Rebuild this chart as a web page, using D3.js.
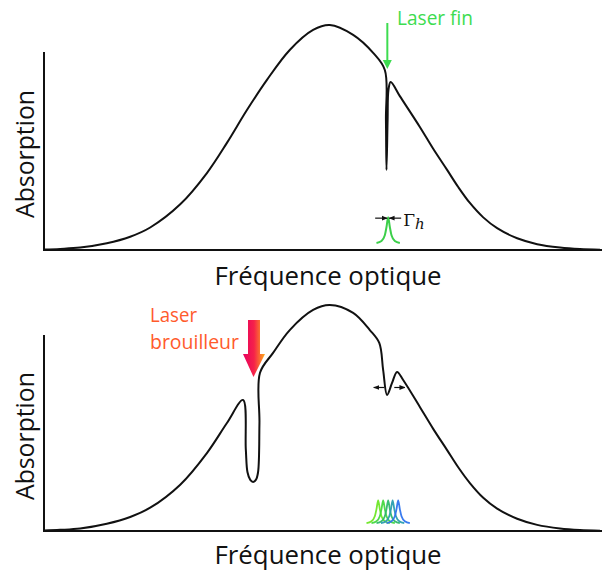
<!DOCTYPE html>
<html><head><meta charset="utf-8">
<script src="https://cdn.jsdelivr.net/npm/d3@7"></script>
<style>body{margin:0;background:#fff}svg{display:block}</style>
</head><body>
<svg id="c" width="602" height="571"></svg>
<script>
// ---- data (frequency in arbitrary units 0..100, absorption normalised to peak = 1)
const topFreq = [0,2.9,6.5,11.3,15.5,19.1,24.5,29.3,32.9,36.5,40.1,44.2,48.4,51.4,55.6,59.2,61.3,61.5,61.6,61.8,61.95,62.35,64.0,67.6,70.0,72.5,74.5,76.6,79.0,81.5,85.1,88.7,92.8,96.4,100];
const topAbs  = [0.002,0.005,0.011,0.03,0.059,0.1,0.203,0.342,0.476,0.622,0.756,0.889,0.978,1.0,0.956,0.876,0.8,0.578,0.356,0.578,0.711,0.747,0.684,0.547,0.45,0.356,0.28,0.209,0.145,0.097,0.052,0.026,0.011,0.004,0.001];

const botFreq = [0,2.9,6.5,11.3,15.5,19.1,24.5,29.3,32.9,35.8,36.3,36.6,37.1,37.6,38.1,38.5,38.75,38.85,41.2,44.2,48.4,51.4,55.6,58.6,60.3,61.0,61.7,62.6,63.5,64.6,67.6,70.0,72.5,74.5,76.6,79.0,81.5,85.1,88.7,92.8,96.4,100];
const botAbs  = [0.002,0.005,0.011,0.032,0.062,0.103,0.205,0.345,0.478,0.58,0.36,0.26,0.226,0.217,0.226,0.26,0.478,0.70,0.788,0.889,0.978,1.0,0.965,0.889,0.832,0.712,0.602,0.655,0.704,0.668,0.549,0.452,0.358,0.282,0.212,0.147,0.099,0.054,0.027,0.011,0.004,0.001];

// narrow laser line profile (offset in frequency, relative height)
const lineDf = [-2.1,-1.2,-0.6,-0.3,0,0.3,0.6,1.2,2.1];
const lineH  = [0,0.08,0.3,0.62,1,0.62,0.3,0.08,0];

const fineCenter = 61.9, fineBase = 0.031, fineAmp = 0.115;
const scanCenters = [60.1,61.0,61.9,62.7,63.7];
const scanColors = ["#6ee626","#44d840","#2fb86a","#2a9db0","#2f74ee"];
const scanBase = 0.035, scanAmp = 0.10;

const xLabel = "Fréquence optique";
const yLabel = "Absorption";

// ---- layout
const svg = d3.select("#c");
const x = d3.scaleLinear().domain([0,100]).range([44,600]);
const panels = [
  {y: d3.scaleLinear().domain([0,1]).range([250,25]), freq: topFreq, abs: topAbs, yTop: 0.88, xlabY: 285},
  {y: d3.scaleLinear().domain([0,1]).range([531,305]), freq: botFreq, abs: botAbs, yTop: 0.867, xlabY: 564}
];
const font = "'Open Sans', sans-serif";

panels.forEach(p => {
  const g = svg.append("g");
  // axes
  g.append("line").attr("x1",x(0)).attr("x2",x(0)).attr("y1",p.y(p.yTop)).attr("y2",p.y(0)+1)
    .attr("stroke","#111").attr("stroke-width",2);
  g.append("line").attr("x1",x(0)-1).attr("x2",602).attr("y1",p.y(0)).attr("y2",p.y(0))
    .attr("stroke","#111").attr("stroke-width",2.2);
  // curve
  const pts = p.freq.map((f,i)=>[f,p.abs[i]]);
  g.append("path").attr("d", d3.line().x(d=>x(d[0])).y(d=>p.y(d[1])).curve(d3.curveCatmullRom.alpha(0.5))(pts))
    .attr("fill","none").attr("stroke","#111").attr("stroke-width",2).attr("stroke-linejoin","round");
  // labels
  g.append("text").attr("x",328).attr("y",p.xlabY).attr("text-anchor","middle")
    .attr("font-family",font).attr("font-size",25).attr("fill","#111")
    .attr("textLength",227).attr("lengthAdjust","spacingAndGlyphs").text(xLabel);
  const cy = (p.y(p.yTop)+p.y(0))/2+3;
  g.append("text").attr("transform",`translate(34,${cy}) rotate(-90)`).attr("text-anchor","middle")
    .attr("font-family",font).attr("font-size",25).attr("fill","#111")
    .attr("textLength",128).attr("lengthAdjust","spacingAndGlyphs").text(yLabel);
});

const defs = svg.append("defs");
defs.append("marker").attr("id","ah").attr("viewBox","0 0 10 10").attr("refX",9).attr("refY",5)
  .attr("markerWidth",5).attr("markerHeight",5).attr("orient","auto")
  .append("path").attr("d","M0,1 L10,5 L0,9 z").attr("fill","#111");
const grad = defs.append("linearGradient").attr("id","gr").attr("x1","0").attr("x2","1").attr("y1","0").attr("y2","0");
grad.append("stop").attr("offset","0").attr("stop-color","#e8005f");
grad.append("stop").attr("offset","0.5").attr("stop-color","#f5224a");
grad.append("stop").attr("offset","1").attr("stop-color","#ffae1a");

const lineGen = (yS, c, base, amp) => d3.line().x((d,i)=>x(c+d)).y((d,i)=>yS(base+amp*lineH[i])).curve(d3.curveMonotoneX)(lineDf);

// ---- top panel annotations
const yT = panels[0].y;
svg.append("path").attr("d", lineGen(yT, fineCenter, fineBase, fineAmp))
  .attr("fill","none").attr("stroke","#3ccf4a").attr("stroke-width",2);
const gy = yT(fineBase+fineAmp)+1;
svg.append("line").attr("x1",x(fineCenter)-13).attr("x2",x(fineCenter)-1).attr("y1",gy).attr("y2",gy)
  .attr("stroke","#111").attr("stroke-width",1.2).attr("marker-end","url(#ah)");
svg.append("line").attr("x1",x(fineCenter)+13).attr("x2",x(fineCenter)+1).attr("y1",gy).attr("y2",gy)
  .attr("stroke","#111").attr("stroke-width",1.2).attr("marker-end","url(#ah)");
const gt = svg.append("text").attr("x",x(fineCenter)+15).attr("y",gy+8)
  .attr("font-family","'DejaVu Serif', serif").attr("font-size",17).attr("fill","#111");
gt.append("tspan").text("Γ");
gt.append("tspan").attr("font-style","italic").attr("font-size",15).attr("dy",3).text("h");

// Laser fin arrow
const ax = x(61.75);
svg.append("line").attr("x1",ax).attr("x2",ax).attr("y1",23).attr("y2",62)
  .attr("stroke","#3ddc50").attr("stroke-width",2);
svg.append("path").attr("d",`M${ax-4.5},60 L${ax+4.5},60 L${ax},69 Z`).attr("fill","#3ddc50");
svg.append("text").attr("x",397).attr("y",25).attr("font-family",font).attr("font-size",20)
  .attr("fill","#3ddc50").attr("textLength",76).attr("lengthAdjust","spacingAndGlyphs").text("Laser fin");

// ---- bottom panel annotations
const yB = panels[1].y;
scanCenters.forEach((c,i)=>{
  svg.append("path").attr("d", lineGen(yB, c, scanBase, scanAmp))
    .attr("fill","none").attr("stroke",scanColors[i]).attr("stroke-width",1.8).attr("opacity",0.95);
});
const by = yB(0.635);
svg.append("line").attr("x1",x(61.2)).attr("x2",x(59.3)).attr("y1",by).attr("y2",by)
  .attr("stroke","#111").attr("stroke-width",1.2).attr("marker-end","url(#ah)");
svg.append("line").attr("x1",x(63.0)).attr("x2",x(64.9)).attr("y1",by).attr("y2",by)
  .attr("stroke","#111").attr("stroke-width",1.2).attr("marker-end","url(#ah)");

// Laser brouilleur arrow (gradient)
svg.append("path").attr("d","M248,320 L260,320 L260,354 L265,354 L253.5,377 L243,354 L248,354 Z")
  .attr("fill","url(#gr)");
svg.append("text").attr("x",150).attr("y",322).attr("font-family",font).attr("font-size",20)
  .attr("fill","#ff5a2c").attr("textLength",47).attr("lengthAdjust","spacingAndGlyphs").text("Laser");
svg.append("text").attr("x",150).attr("y",349).attr("font-family",font).attr("font-size",20)
  .attr("fill","#ff5a2c").attr("textLength",89).attr("lengthAdjust","spacingAndGlyphs").text("brouilleur");
</script>
</body></html>
